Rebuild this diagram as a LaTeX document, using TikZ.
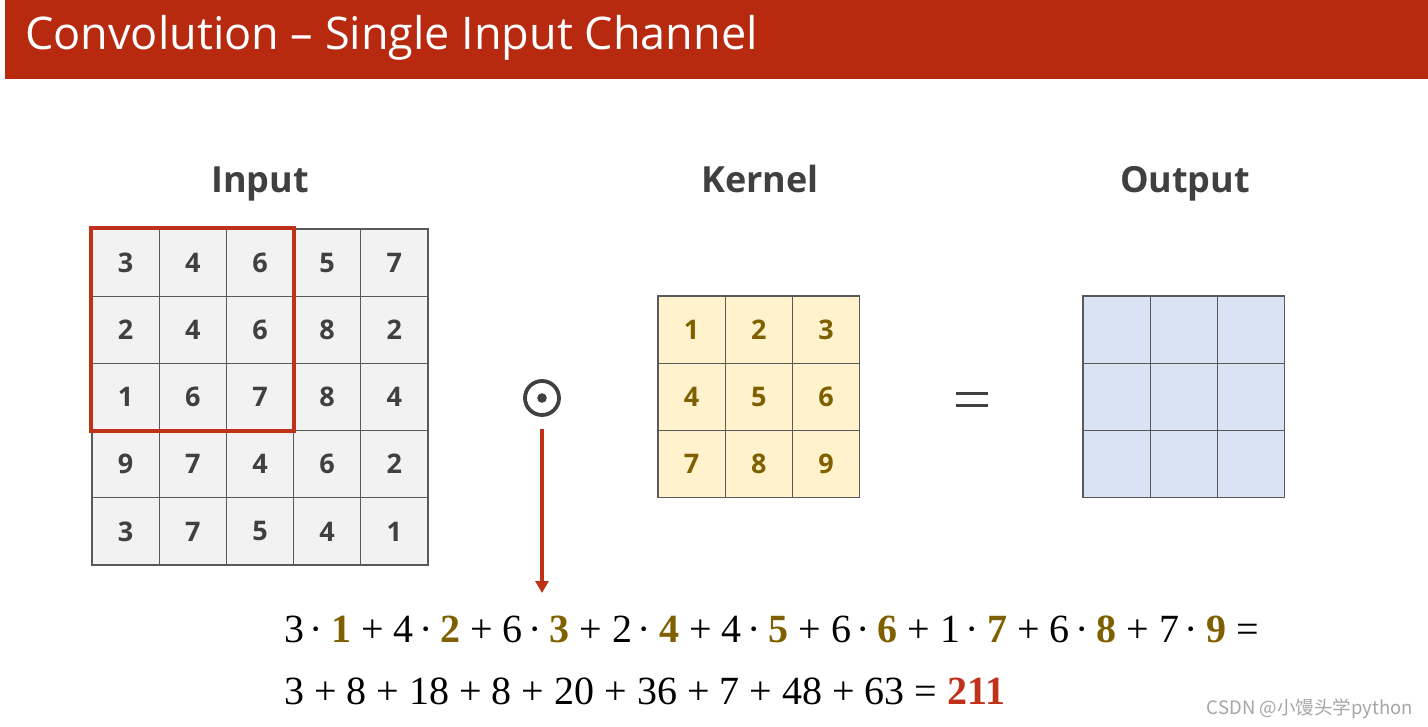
\documentclass[tikz,border=0pt]{standalone}
\usepackage{fontspec}
\setmainfont{Open Sans}
\newfontfamily\eqfont{Liberation Serif}
\newfontfamily\cjkfont{Noto Sans CJK SC}
\usetikzlibrary{arrows.meta}
\definecolor{titlered}{HTML}{B72A10}
\definecolor{boxred}{HTML}{C0311A}
\definecolor{darktxt}{HTML}{404040}
\definecolor{gridline}{HTML}{595959}
\definecolor{infill}{HTML}{F2F2F2}
\definecolor{kfill}{HTML}{FFF2CC}
\definecolor{kcol}{HTML}{7F6000}
\definecolor{ofill}{HTML}{DAE3F3}
\definecolor{wmgrey}{HTML}{A6A6A6}
\newcommand\kb[1]{{\bfseries\color{kcol}#1}}
\newcommand\md{\hspace{5.5pt}·\hspace{8pt}}
\tikzset{
  cellbox/.style={draw=gridline, line width=1.3pt, minimum width=67.2pt, minimum height=67.2pt, inner sep=0pt, font=\fontsize{27}{27}\selectfont\bfseries},
  headlbl/.style={anchor=base, inner sep=0pt, font=\fontsize{36}{36}\selectfont\bfseries, text=darktxt},
  eqline/.style={anchor=base west, inner sep=0pt, font=\eqfont\fontsize{40}{40}\selectfont}
}
\begin{document}
\begin{tikzpicture}[x=1pt,y=-1pt]
\useasboundingbox (0,0) rectangle (1428,727);
\fill[white] (0,0) rectangle (1428,727);
\fill[titlered] (5,0) rectangle (1428,79);
\node[anchor=base west, inner sep=0pt, text=white, font=\fontsize{45}{45}\selectfont] (title) at (25,50) {Convolution – Single Input Channel};

\node[headlbl] (inlbl) at (260,193) {Input};
\node[headlbl] (klbl) at (760,193) {Kernel};
\node[headlbl] (olbl) at (1185,193) {Output};

% input grid
\foreach \v [count=\i from 0] in {3,4,6,5,7, 2,4,6,8,2, 1,6,7,8,4, 9,7,4,6,2, 3,7,5,4,1} {
  \pgfmathtruncatemacro\r{\i/5}
  \pgfmathtruncatemacro\c{\i-5*\r}
  \node[cellbox, fill=infill, text=darktxt] (in-\r-\c) at (92+33.6+67.2*\c, 229+33.6+67.2*\r) {\v};
}
\draw[boxred, line width=3.8pt] (in-0-0.north west) rectangle (in-2-2.south east);

% kernel grid
\foreach \v [count=\i from 0] in {1,2,3,4,5,6,7,8,9} {
  \pgfmathtruncatemacro\r{\i/3}
  \pgfmathtruncatemacro\c{\i-3*\r}
  \node[cellbox, fill=kfill, text=kcol] (k-\r-\c) at (658+33.6+67.2*\c, 296+33.6+67.2*\r) {\v};
}

% output grid
\foreach \i in {0,...,8} {
  \pgfmathtruncatemacro\r{\i/3}
  \pgfmathtruncatemacro\c{\i-3*\r}
  \node[cellbox, fill=ofill] (o-\r-\c) at (1083+33.6+67.2*\c, 296+33.6+67.2*\r) {};
}

% odot and equals
\node[circle, draw=darktxt, line width=3.8pt, minimum size=34pt, inner sep=0pt] (odot) at (542,398) {};
\fill[darktxt] (odot.center) circle (4.8pt);
\coordinate (eqa1) at (956,393.5);
\coordinate (eqb1) at (988,393.5);
\coordinate (eqa2) at (956,405.5);
\coordinate (eqb2) at (988,405.5);
\draw[darktxt, line width=3.5pt] (eqa1) -- (eqb1);
\draw[darktxt, line width=3.5pt] (eqa2) -- (eqb2);

% arrow
\coordinate (arrowend) at (542,593);
\draw[boxred, line width=3.5pt, -{Triangle[length=12pt,width=13pt]}] ([yshift=-12pt]odot.south) -- (arrowend);

% equations
\node[eqline] (eq1) at (284,642) {3\md\kb{1} + 4\md\kb{2} + 6\md\kb{3} + 2\md\kb{4} + 4\md\kb{5} + 6\md\kb{6} + 1\md\kb{7} + 6\md\kb{8} + 7\md\kb{9} =};
\node[eqline] (eq2) at (284,704) {3 + 8 + 18 + 8 + 20 + 36 + 7 + 48 + 63 = {\bfseries\color{boxred}211}};

% watermark
\node[anchor=base east, inner sep=0pt, text=wmgrey, font=\cjkfont\fontsize{18.5}{18.5}\selectfont] (wm) at (1413,714) {CSDN @小馒头学python};
\end{tikzpicture}
\end{document}
